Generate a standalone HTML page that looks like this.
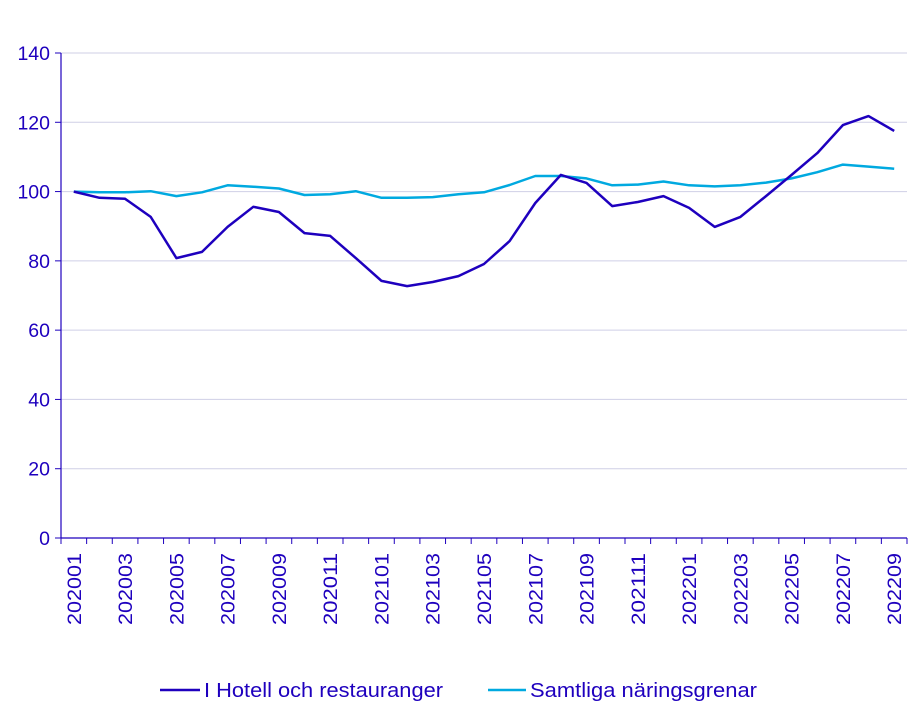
<!DOCTYPE html>
<html><head><meta charset="utf-8"><style>
html,body{margin:0;padding:0;background:#fff;}
svg{display:block;font-family:"Liberation Sans",sans-serif;}
</style></head><body>
<svg id="chart" width="911" height="723" viewBox="0 0 911 723" xmlns="http://www.w3.org/2000/svg">
<g id="grid"></g>
<g id="yaxis"></g>
<g id="xaxis"></g>
<g id="series"></g>
<g>
 <g>
  <line x1="160" y1="690" x2="200" y2="690" stroke="#1e00be" stroke-width="2.5"/>
  <text x="204" y="697" font-size="20" fill="#1e00be" textLength="239" lengthAdjust="spacingAndGlyphs">I Hotell och restauranger</text>
 </g>
 <g>
  <line x1="488" y1="690" x2="526" y2="690" stroke="#00a9e0" stroke-width="2.5"/>
  <text x="530" y="697" font-size="20" fill="#1e00be" textLength="227" lengthAdjust="spacingAndGlyphs">Samtliga näringsgrenar</text>
 </g>
</g>
</svg>
<script>
const categories=["202001","202002","202003","202004","202005","202006","202007","202008","202009","202010","202011","202012","202101","202102","202103","202104","202105","202106","202107","202108","202109","202110","202111","202112","202201","202202","202203","202204","202205","202206","202207","202208","202209"];
const hotellValues=[100,98.2,97.9,92.7,80.8,82.6,89.8,95.6,94.1,88.0,87.2,80.8,74.2,72.7,73.9,75.6,79.1,85.7,96.7,104.8,102.5,95.8,97.0,98.7,95.3,89.8,92.7,98.7,104.8,111.1,119.2,121.8,117.5];
const samtligaValues=[100,99.8,99.8,100.1,98.7,99.8,101.8,101.4,100.9,99.0,99.2,100.1,98.2,98.2,98.4,99.2,99.8,101.9,104.5,104.5,103.8,101.8,102.0,102.9,101.8,101.5,101.8,102.6,103.8,105.6,107.8,107.2,106.6];
const yTicks=[0,20,40,60,80,100,120,140];
const NS="http://www.w3.org/2000/svg";
const X0=61,X1=907,Y0=538,Y1=53,YMAX=140;
const band=(X1-X0)/categories.length;
function xScale(i){return X0+band*(i+0.5);}
function yScale(v){return Y0-(v/YMAX)*(Y0-Y1);}
function mk(tag,attrs,parent){const e=document.createElementNS(NS,tag);for(const k in attrs)e.setAttribute(k,attrs[k]);parent.appendChild(e);return e;}
const grid=document.getElementById('grid'),ya=document.getElementById('yaxis'),xa=document.getElementById('xaxis'),ser=document.getElementById('series');
yTicks.forEach(t=>{
 const y=yScale(t);
 if(t>0){const l=mk('line',{x1:X0,x2:X1,y1:y,y2:y,stroke:'#cfcfe6','stroke-width':1},grid);
 
 }
 const tx=mk('text',{x:50,y:y+7,'text-anchor':'end','font-size':19.5,fill:'#1e00be'},ya);
 
 
 tx.textContent=t;
 const tk=mk('line',{x1:55,x2:X0,y1:y,y2:y,stroke:'#1e00be','stroke-width':1},ya);
 
 
});
const yl=mk('line',{x1:X0,x2:X0,y1:Y1,y2:Y0,stroke:'#1e00be','stroke-width':1.2},ya);


const xl=mk('line',{x1:X0,x2:X1,y1:Y0,y2:Y0,stroke:'#1e00be','stroke-width':1.2},xa);


for(let i=0;i<=categories.length;i++){
 const x=X0+band*i;
 const tk=mk('line',{x1:x,x2:x,y1:Y0,y2:Y0+6,stroke:'#1e00be','stroke-width':1},xa);
 
 
}
categories.forEach((c,i)=>{
 if(i%2!==0)return;
 const x=xScale(i)+7,y=Y0+15;
 const t=mk('text',{x:x,y:y,'text-anchor':'end','font-size':19,fill:'#1e00be',textLength:72,lengthAdjust:'spacingAndGlyphs',transform:`rotate(-90 ${x} ${y})`},xa);
 
 
 t.textContent=c;
});
function drawLine(vals,color,name){
 const d=vals.map((v,i)=>(i?'L':'M')+xScale(i).toFixed(1)+','+yScale(v).toFixed(1)).join(' ');
 const p=mk('path',{d:d,fill:'none',stroke:color,'stroke-width':2.5,'stroke-linejoin':'round'},ser);
 
 
}
drawLine(samtligaValues,'#00a9e0','line-samtliga-naringsgrenar');
drawLine(hotellValues,'#1e00be','line-hotell-och-restauranger');
</script>
</body></html>
